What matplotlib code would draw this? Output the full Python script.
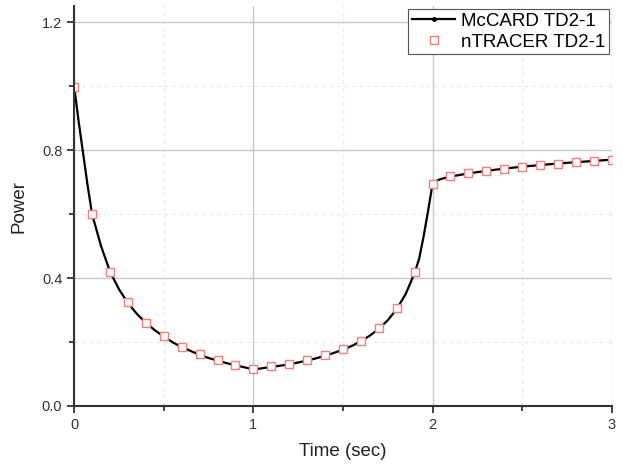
import matplotlib.pyplot as plt
from matplotlib.ticker import MultipleLocator

plt.rcParams['font.family'] = ['Liberation Sans', 'DejaVu Sans']

# McCARD TD2-1 (continuous curve)
mc_t = [0.0, 0.025, 0.05, 0.075, 0.1, 0.15, 0.2, 0.25, 0.3, 0.35, 0.4, 0.45,
        0.5, 0.55, 0.6, 0.65, 0.7, 0.75, 0.8, 0.85, 0.9, 0.95, 1.0, 1.05,
        1.1, 1.15, 1.2, 1.25, 1.3, 1.35, 1.4, 1.45, 1.5, 1.55, 1.6, 1.65,
        1.7, 1.75, 1.8, 1.85, 1.9, 1.925, 1.95, 1.975, 2.0, 2.025, 2.05, 2.1,
        2.2, 2.3, 2.4, 2.5, 2.6, 2.7, 2.8, 2.9, 3.0]
mc_p = [1.0, 0.89, 0.79, 0.69, 0.60, 0.50, 0.42, 0.365, 0.322, 0.288, 0.26, 0.237,
        0.217, 0.199, 0.184, 0.172, 0.160, 0.150, 0.142, 0.134, 0.127, 0.121, 0.114, 0.118,
        0.122, 0.126, 0.130, 0.136, 0.142, 0.149, 0.157, 0.166, 0.176, 0.188, 0.202, 0.220,
        0.241, 0.268, 0.303, 0.350, 0.416, 0.46, 0.53, 0.61, 0.695, 0.705, 0.710, 0.717,
        0.727, 0.735, 0.742, 0.748, 0.753, 0.758, 0.762, 0.766, 0.770]

# nTRACER TD2-1 (every 0.1 s)
nt_t = [round(0.1 * i, 1) for i in range(31)]
nt_p = [0.997, 0.60, 0.42, 0.324, 0.26, 0.219, 0.185, 0.163, 0.144, 0.129, 0.117,
        0.124, 0.132, 0.144, 0.158, 0.177, 0.203, 0.243, 0.305, 0.419, 0.695,
        0.718, 0.727, 0.734, 0.742, 0.748, 0.753, 0.757, 0.762, 0.766, 0.770]

fig = plt.figure(figsize=(6.23, 4.68), dpi=100)
ax = fig.add_axes([0.119, 0.1325, 0.863, 0.8545])

ax.plot(mc_t, mc_p, color='black', lw=1.6, marker='o', markersize=2.5,
        markevery=[], label='McCARD TD2-1')
ax.plot(nt_t, nt_p, ls='none', marker='s', markersize=6, markerfacecolor='white',
        markeredgecolor='#f77c7c', markeredgewidth=1.0, label='nTRACER TD2-1')

ax.set_xlim(0, 3)
ax.set_ylim(0, 1.25)
ax.xaxis.set_major_locator(MultipleLocator(1))
ax.xaxis.set_minor_locator(MultipleLocator(0.5))
ax.yaxis.set_major_locator(MultipleLocator(0.4))
ax.yaxis.set_minor_locator(MultipleLocator(0.2))
ax.yaxis.set_major_formatter(plt.FormatStrFormatter('%.1f'))
ax.xaxis.set_major_formatter(plt.FormatStrFormatter('%d'))

ax.grid(which='major', color='#c8c8c8', lw=1.0, ls='-')
ax.grid(which='minor', color='#e8e8e8', lw=0.9, ls=(0, (3, 3)))
ax.set_axisbelow(True)

for s in ['top', 'right']:
    ax.spines[s].set_visible(False)
for s in ['left', 'bottom']:
    ax.spines[s].set_color('#333333')
    ax.spines[s].set_linewidth(1.5)
ax.tick_params(which='major', direction='out', length=5, width=1.3, color='#333333',
               labelsize=10.5, labelcolor='#333333')
ax.tick_params(which='minor', direction='out', length=3.5, width=1.3, color='#333333')

ax.set_xlabel('Time (sec)', fontsize=13.5, color='#222222', labelpad=8)
ax.set_ylabel('Power', fontsize=13.5, color='#222222', labelpad=10)

leg = ax.legend(loc='upper right', bbox_to_anchor=(1.0, 1.0), fontsize=13.5,
                frameon=True, fancybox=False, edgecolor='#555555', framealpha=1,
                borderpad=0.2, handlelength=2.3, handletextpad=0.3,
                labelspacing=0.2, borderaxespad=0.15)
leg.get_frame().set_linewidth(0.8)
leg.legend_handles[0].set_markevery([1])

fig.savefig('out.png', dpi=100)
